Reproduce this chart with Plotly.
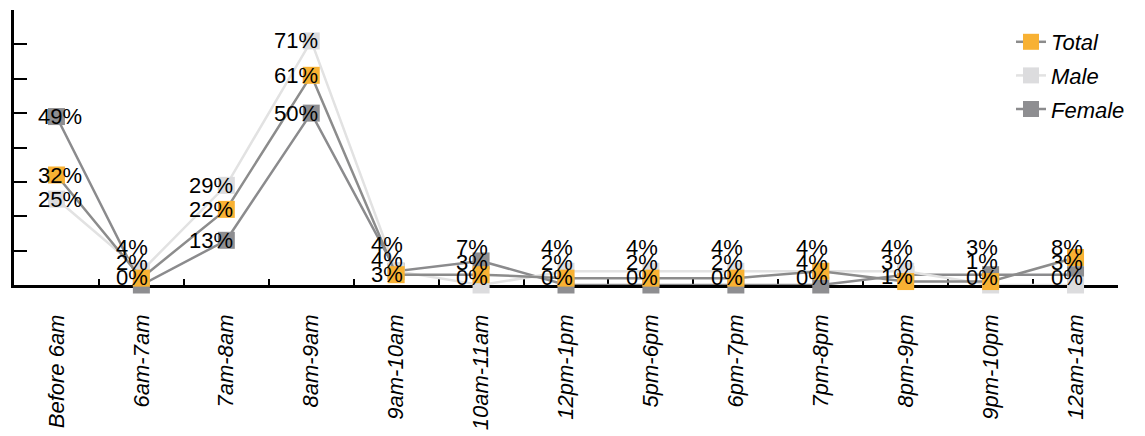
import plotly.graph_objects as go

categories = ["Before 6am", "6am-7am", "7am-8am", "8am-9am", "9am-10am", "10am-11am",
              "12pm-1pm", "5pm-6pm", "6pm-7pm", "7pm-8pm", "8pm-9pm", "9pm-10pm", "12am-1am"]
total = [32, 2, 22, 61, 3, 3, 2, 2, 2, 4, 1, 1, 8]
male = [25, 4, 29, 71, 4, 0, 4, 4, 4, 4, 4, 0, 0]
female = [49, 0, 13, 50, 4, 7, 0, 0, 0, 0, 3, 3, 3]

W, H = 1145, 436
M_L, M_R, M_T, M_B = 14, 27, 10, 151
Y_MAX = 80
ppu = (H - M_T - M_B) / Y_MAX  # pixels per percent

# (name, values, line colour, marker colour, legend rank)
series = [
    ("Female", female, "#8b8b8d", "#8e8e91", 3),
    ("Male", male, "#e2e2e2", "#dcdcde", 2),
    ("Total", total, "#8c8c8c", "#f8b133", 1),
]

fig = go.Figure()
for name, vals, lc, mc, rank in series:
    fig.add_trace(go.Scatter(
        x=categories, y=vals, name=name, mode="lines+markers",
        legendgroup=name, legendrank=rank,
        line=dict(color=lc, width=2.5),
        marker=dict(symbol="square", size=17, color=mc, line=dict(width=0)),
        cliponaxis=False,
    ))

# value labels with simple vertical collision avoidance
annotations = []
for i, cat in enumerate(categories):
    items = []
    for order, s in enumerate(series[::-1]):
        vals = s[1]
        items.append((vals[i], order, f"{vals[i]}%"))
    items.sort(key=lambda t: (t[0], t[1]))
    prev = None
    for v, order, txt in items:
        mh = v * ppu
        h = max(mh, 8) if prev is None else max(mh, prev + 15)
        prev = h
        if i == 0:
            xa, xs = "left", -20
        else:
            xa, xs = "right", 9
        annotations.append(dict(
            x=cat, y=v, text=txt, showarrow=False, xanchor=xa, yanchor="middle",
            xshift=xs, yshift=h - mh,
            font=dict(family="Liberation Sans, Arial, sans-serif", size=22, color="black"),
        ))

fig.update_layout(
    width=W, height=H,
    margin=dict(l=M_L, r=M_R, t=M_T, b=M_B),
    paper_bgcolor="white", plot_bgcolor="white",
    showlegend=True,
    legend=dict(
        x=(1011 - M_L) / (W - M_L - M_R), xanchor="left",
        y=(H - M_B - 21) / (H - M_T - M_B), yanchor="top",
        traceorder="grouped", tracegroupgap=2,
        font=dict(family="Liberation Sans, Arial, sans-serif", size=22, color="black", style="italic"),
        bgcolor="rgba(0,0,0,0)",
    ),
    annotations=annotations,
    xaxis=dict(
        type="category", range=[-0.5, len(categories) - 0.5],
        showline=True, linecolor="black", linewidth=2.5,
        ticks="inside", tickson="boundaries", ticklen=6, tickwidth=2, tickcolor="black",
        tickangle=-90, ticklabelstandoff=18, automargin=False,
        tickfont=dict(family="Liberation Sans, Arial, sans-serif", size=22, color="black", style="italic"),
        showgrid=False, zeroline=False, layer="below traces",
    ),
    yaxis=dict(
        range=[0, Y_MAX], dtick=10, showticklabels=False, automargin=False,
        showline=True, linecolor="black", linewidth=2.5,
        ticks="inside", ticklen=13, tickwidth=2, tickcolor="black",
        showgrid=False, zeroline=False, layer="below traces",
    ),
)

fig.write_html(
    "out.html",
    config={"displayModeBar": False},
    post_script="document.body.style.margin='0';document.body.style.overflow='hidden';",
)
